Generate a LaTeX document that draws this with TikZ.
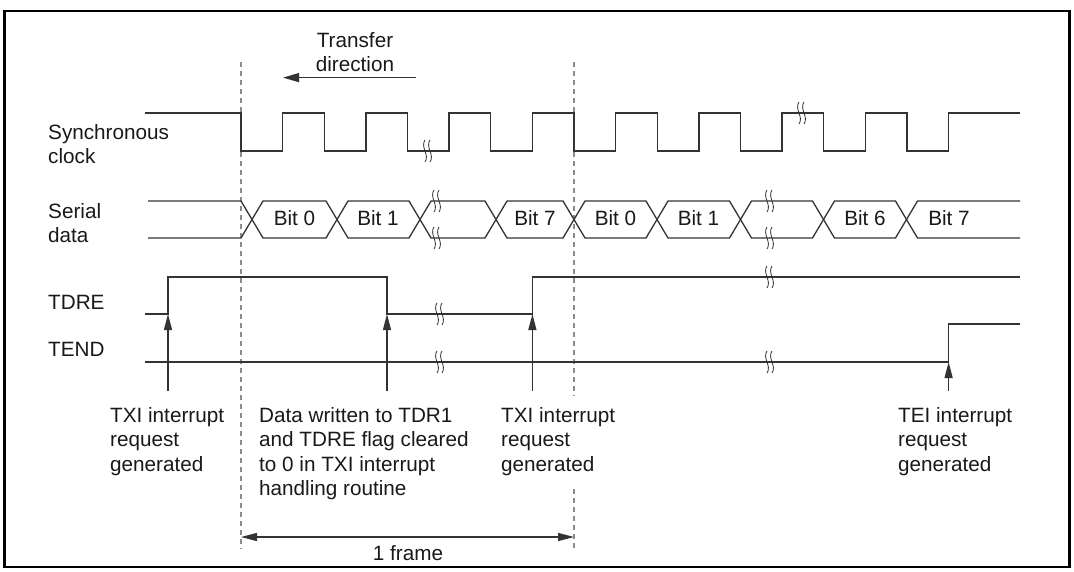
\documentclass[tikz,border=0pt]{standalone}
\usepackage{fontspec}
\setmainfont{Liberation Sans}
\usetikzlibrary{arrows.meta}
\begin{document}
\begin{tikzpicture}[x=1pt,y=-1pt,
  sig/.style={line width=1.3pt, draw=black!80, line join=miter},
  guide/.style={line width=1.3pt, draw=black!45, dash pattern=on 5pt off 4pt},
  lbl/.style={inner sep=0pt, anchor=north west, align=left, font=\fontsize{20.7}{24.5}\selectfont, text=black!90},
  bitlbl/.style={inner sep=0pt, anchor=base, font=\fontsize{20.7}{24.5}\selectfont, text=black!90},
  brk/.style={line width=0.8pt, draw=black!80},
  irq/.style={line width=1.3pt, draw=black!80, -{Triangle[length=16pt,width=8pt]}},
  dimarrow/.style={line width=1.3pt, draw=black!80, {Triangle[length=16pt,width=8pt]}-{Triangle[length=16pt,width=8pt]}},
  brkmark/.pic={
    \draw[brk] (0,-11) .. controls (-5,-4) and (5,4) .. (0,11);
    \draw[brk] (5,-11) .. controls (0,-4) and (10,4) .. (5,11);
  }
]
\useasboundingbox (0,0) rectangle (1074,571);
\draw[line width=2.5pt] (4.5,11) rectangle (1069.5,567);

% guide lines
\coordinate (g1t) at (241,62);
\coordinate (g1b) at (241,549);
\coordinate (g2t) at (574,62);
\coordinate (g2m1) at (574,396);
\coordinate (g2m2) at (574,489);
\coordinate (g2b) at (574,549);
\draw[guide] (g1t) -- (g1b);
\draw[guide] (g2t) -- (g2m1);
\draw[guide] (g2m2) -- (g2b);

% transfer direction
\node[lbl, align=center, anchor=north] (xfer) at (355,29.85) {\strut Transfer\\direction};
\coordinate (xa) at (415.5,77.6);
\coordinate (xb) at (283,77.6);
\draw[line width=1.3pt, draw=black!80, -{Triangle[length=16pt,width=9pt]}] (xa) -- (xb);

% left labels
\node[lbl] (sync) at (48,121.85) {\strut Synchronous\\clock};
\node[lbl] (ser) at (48,200.85) {\strut Serial\\data};
\node[lbl] (tdre) at (48,291.85) {\strut TDRE};
\node[lbl] (tend) at (48,338.85) {\strut TEND};

% synchronous clock
\draw[sig] (145,113) -- (241,113) -- (241,151) -- (282.6,151) -- (282.6,113) -- (324.3,113) -- (324.3,151)
  -- (365.9,151) -- (365.9,113) -- (407.5,113) -- (407.5,151) -- (449.1,151) -- (449.1,113)
  -- (490.8,113) -- (490.8,151) -- (532.4,151) -- (532.4,113) -- (574,113) -- (574,151)
  -- (615.6,151) -- (615.6,113) -- (657.3,113) -- (657.3,151) -- (698.9,151) -- (698.9,113)
  -- (740.5,113) -- (740.5,151) -- (782.1,151) -- (782.1,113) -- (823.8,113) -- (823.8,151)
  -- (865.4,151) -- (865.4,113) -- (907,113) -- (907,151) -- (948.6,151) -- (948.6,113) -- (1020,113);
\pic at (425,151) {brkmark};
\pic at (799,113) {brkmark};

% serial data
\draw[sig] (148,201) -- (241,201) -- (263,238) -- (326,238) -- (348,201) -- (409,201) -- (431,238)
  -- (485,238) -- (507,201) -- (563,201) -- (585,238) -- (646,238) -- (668,201) -- (729.5,201)
  -- (751.5,238) -- (812.5,238) -- (834.5,201) -- (895.5,201) -- (917.5,238) -- (1020,238);
\draw[sig] (148,238) -- (241,238) -- (263,201) -- (326,201) -- (348,238) -- (409,238) -- (431,201)
  -- (485,201) -- (507,238) -- (563,238) -- (585,201) -- (646,201) -- (668,238) -- (729.5,238)
  -- (751.5,201) -- (812.5,201) -- (834.5,238) -- (895.5,238) -- (917.5,201) -- (1020,201);
\pic at (434,201) {brkmark};
\pic at (434,238) {brkmark};
\pic at (767,201) {brkmark};
\pic at (767,238) {brkmark};
\node[bitlbl] (b0a) at (294.5,225) {Bit 0};
\node[bitlbl] (b1a) at (378,225) {Bit 1};
\node[bitlbl] (b7a) at (535,225) {Bit 7};
\node[bitlbl] (b0b) at (615.5,225) {Bit 0};
\node[bitlbl] (b1b) at (698.5,225) {Bit 1};
\node[bitlbl] (b6) at (865,225) {Bit 6};
\node[bitlbl] (b7b) at (949,225) {Bit 7};

% TDRE
\draw[sig] (145,314) -- (168,314) -- (168,277) -- (387,277) -- (387,314) -- (532.4,314) -- (532.4,277) -- (1020,277);
\pic at (437,314) {brkmark};
\pic at (767,277) {brkmark};

% TEND
\draw[sig] (145,362) -- (948.6,362) -- (948.6,324) -- (1020,324);
\pic at (437,362) {brkmark};
\pic at (767,362) {brkmark};

% interrupt arrows
\coordinate (a1s) at (168,391);   \coordinate (a1e) at (168,314);
\coordinate (a2s) at (387,391);   \coordinate (a2e) at (387,314);
\coordinate (a3s) at (532.4,391); \coordinate (a3e) at (532.4,314);
\coordinate (a4s) at (948.6,391); \coordinate (a4e) at (948.6,362);
\draw[irq] (a1s) -- (a1e);
\draw[irq] (a2s) -- (a2e);
\draw[irq] (a3s) -- (a3e);
\draw[irq] (a4s) -- (a4e);

% bottom labels
\node[lbl] (txi1) at (110,404.85) {\strut TXI interrupt\\request\\generated};
\node[lbl] (data) at (259,404.85) {\strut Data written to TDR1\\and TDRE flag cleared\\to 0 in TXI interrupt\\handling routine};
\node[lbl] (txi2) at (501,404.85) {\strut TXI interrupt\\request\\generated};
\node[lbl] (tei) at (898,404.85) {\strut TEI interrupt\\request\\generated};

% frame
\coordinate (f1) at (241,537);
\coordinate (f2) at (574,537);
\draw[dimarrow] (f1) -- (f2);
\node[bitlbl] (frm) at (408,560) {1 frame};
\end{tikzpicture}
\end{document}
